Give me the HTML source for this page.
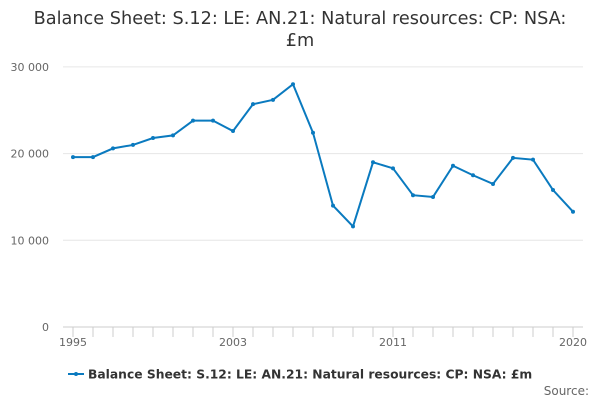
<!DOCTYPE html>
<html><head><meta charset="utf-8"><style>
body{margin:0;background:#fff;font-family:"Liberation Sans","DejaVu Sans",sans-serif;}
svg text{font-family:"DejaVu Sans","Liberation Sans",sans-serif;}
</style></head><body>
<svg id="c" width="600" height="400">
<text x="300" y="24" text-anchor="middle" font-size="17.7" fill="#333">Balance Sheet: S.12: LE: AN.21: Natural resources: CP: NSA:</text>
<text x="300" y="46" text-anchor="middle" font-size="17.7" fill="#333">£m</text>
<g id="grid"></g><g id="xax"></g><g id="series"></g>
<g>
<line x1="68" y1="374" x2="84" y2="374" stroke="#0a7abf" stroke-width="2"/>
<circle cx="76" cy="374" r="2" fill="#0a7abf"/>
<text x="88" y="378.5" font-size="12.3" font-weight="bold" fill="#333">Balance Sheet: S.12: LE: AN.21: Natural resources: CP: NSA: £m</text>
</g>
<text x="589" y="395" text-anchor="end" font-size="12" fill="#666">Source:</text>
</svg>
<script>
const years=[1995,1996,1997,1998,1999,2000,2001,2002,2003,2004,2005,2006,2007,2008,2009,2010,2011,2012,2013,2014,2015,2016,2017,2018,2019,2020];
const values=[19600,19600,20600,21000,21800,22100,23800,23800,22600,25700,26200,28000,22400,14000,11600,19000,18300,15200,15000,18600,17500,16500,19500,19300,15800,13300];
const yTicks=[0,10000,20000,30000];
const yTickLabels=["0","10 000","20 000","30 000"];
const xLabelYears=[1995,2003,2011,2020];
const NS="http://www.w3.org/2000/svg";
const x=v=>73+(v-1995)*20;
const y=v=>327-v*0.00867;
function mk(t,a,p){const e=document.createElementNS(NS,t);for(const k in a)e.setAttribute(k,a[k]);p.appendChild(e);return e;}
const g=document.getElementById('grid'),xa=document.getElementById('xax'),s=document.getElementById('series');
yTicks.forEach((t,i)=>{
 const l=mk('line',{x1:63,x2:583,y1:y(t),y2:y(t),stroke:t===0?'#ccc':'#e6e6e6'},g);
 
 
 const tx=mk('text',{x:49,y:y(t)+4,'text-anchor':'end','font-size':11,fill:'#666'},g);
 tx.textContent=yTickLabels[i];
 
 
});
years.forEach(yr=>{
 const l=mk('line',{x1:x(yr),x2:x(yr),y1:327,y2:337,stroke:'#ccc'},xa);
 
 
});
xLabelYears.forEach(yr=>{
 const t=mk('text',{x:x(yr),y:346,'text-anchor':'middle','font-size':11,fill:'#666'},xa);
 t.textContent=yr;
 
 
});
const p=mk('polyline',{points:years.map((yr,i)=>x(yr)+','+y(values[i])).join(' '),fill:'none',stroke:'#0a7abf','stroke-width':2},s);


years.forEach((yr,i)=>{
 const c=mk('circle',{cx:x(yr),cy:y(values[i]),r:2,fill:'#0a7abf'},s);
 
 
});
</script>
</body></html>
